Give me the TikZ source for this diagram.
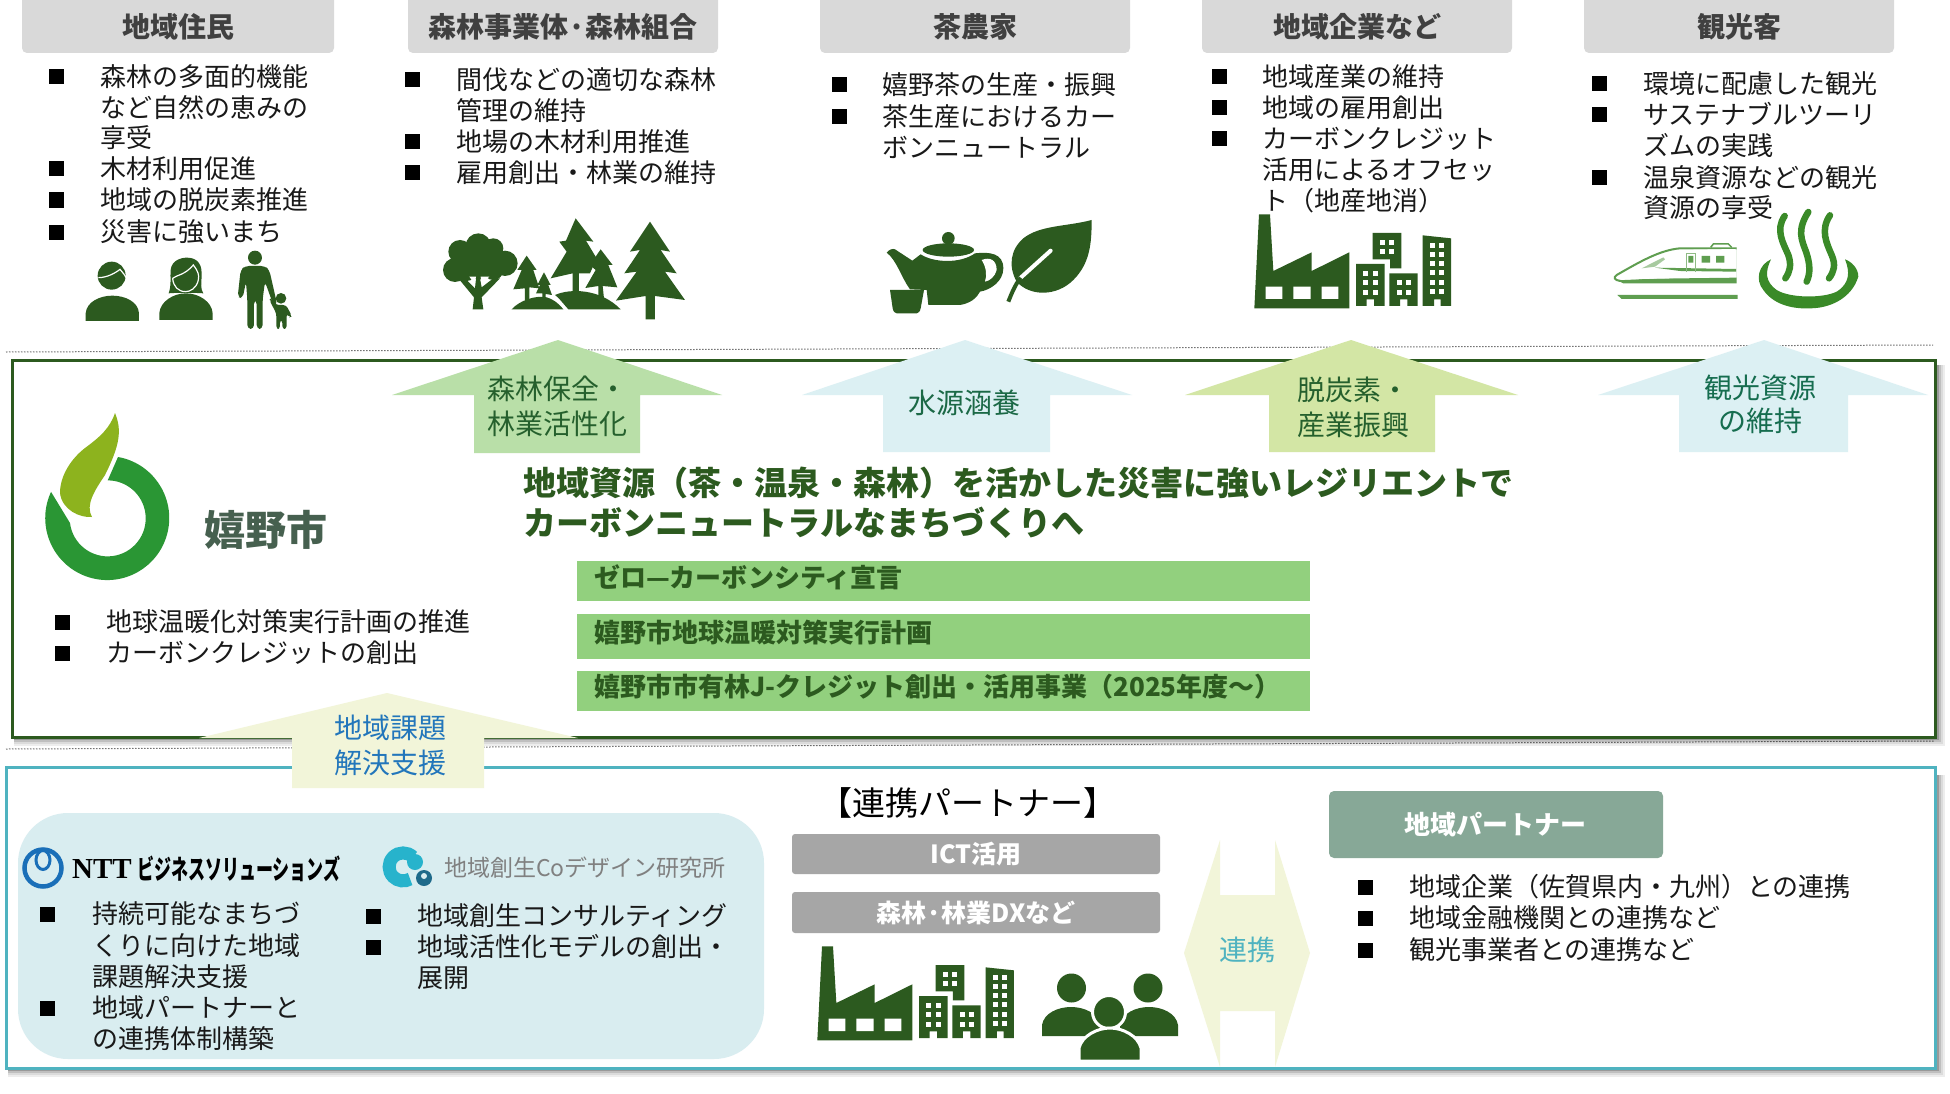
\documentclass[tikz,border=0pt]{standalone}
\usepackage{fontspec}
\usepackage{graphicx}
\setmainfont{Noto Sans CJK JP}
\newfontfamily\nttfont{Liberation Serif}
\definecolor{dk}{HTML}{2C5A1F}
\definecolor{hdr}{HTML}{D9D9D9}
\definecolor{barg}{HTML}{92D07E}
\definecolor{ag}{HTML}{B9DFA8}
\definecolor{ab}{HTML}{DCF0F3}
\definecolor{ay}{HTML}{D3E6A5}
\definecolor{ap}{HTML}{F2F5D9}
\definecolor{tealb}{HTML}{4FB3C0}
\definecolor{panel}{HTML}{D9EDF0}
\definecolor{ring}{HTML}{2A9634}
\definecolor{leafc}{HTML}{8DB31E}
\definecolor{trainc}{HTML}{5F9E50}
\definecolor{onsen}{HTML}{3A8A28}
\definecolor{rpbox}{HTML}{87A897}
\definecolor{bluet}{HTML}{2276BB}
\definecolor{citytxt}{HTML}{46604F}
\definecolor{nttblue}{HTML}{1A6FB8}
\definecolor{cocyan}{HTML}{27B3CC}
\definecolor{codark}{HTML}{1E6A8A}
\tikzset{
 fs/.style={font=\fontsize{#1}{#1}\selectfont,text height=0.88*#1pt,text depth=0.12*#1pt,inner sep=0pt},
 body/.style={fs=26,anchor=west,text=black!90},
 sqb/.style={fill=black,draw=none,minimum size=15pt,inner sep=0pt},
 hdrbox/.style={fill=hdr,rounded corners=5pt,draw=none},
 hdrtxt/.style={fs=28,font=\fontsize{28}{28}\selectfont\bfseries,text=black!75},
 icon/.style 2 args={shift={(#1,#2)},x=0.3333pt,y=-0.3333pt},
 darkf/.style={fill=dk,draw=none},
 dotline/.style={draw=black!55,line width=1pt,dash pattern=on 1.5pt off 1.5pt},
 bartxt/.style={fs=26,font=\fontsize{26}{26}\selectfont\bfseries,anchor=west,text=dk},
 graybar/.style={fill=black!35,rounded corners=3pt,draw=none},
 graytxt/.style={fs=25,font=\fontsize{25}{25}\selectfont\bfseries,text=white},
 arrtxt/.style={fs=28},
 titletxt/.style={fs=33,font=\fontsize{33}{33}\selectfont\bfseries,anchor=west,text=dk},
}
\newcommand{\bi}[5]{\node[sqb] (#1b) at (#2,#4) {};\node[body] (#1) at (#3,#4) {#5};}
\newcommand{\ct}[4]{\node[body] (#1) at (#2,#3) {#4};}
\newcommand{\factoryicon}[2]{%
 \begin{scope}[icon={#1}{#2}]
  \fill[dk] (27,28)--(60,28)--(70,198)--(185,142)--(185,198)--(298,142)--(298,310)--(13,310)--cycle;
  \fill[white] (47,245) rectangle (97,282) (130,245) rectangle (182,282) (215,245) rectangle (265,282);
  \fill[dk] (318,177)--(404,177)--(404,303)--(372,303)--(372,283)--(350,283)--(350,303)--(318,303)--cycle;
  \fill[dk] (368,84)--(454,84)--(454,190)--(420,190)--(420,163)--(368,163)--cycle;
  \fill[dk] (418,205)--(503,205)--(503,303)--(472,303)--(472,283)--(450,283)--(450,303)--(418,303)--cycle;
  \fill[dk] (518,91)--(603,100)--(603,303)--(572,303)--(572,283)--(552,283)--(552,303)--(518,303)--cycle;
  \foreach \a in {340,368} \foreach \b in {197,226,255} \fill[white] (\a,\b) rectangle ++(15,15);
  \foreach \a in {390,418} \foreach \b in {105,133} \fill[white] (\a,\b) rectangle ++(15,15);
  \foreach \a in {440,468} \foreach \b in {226,255} \fill[white] (\a,\b) rectangle ++(15,15);
  \foreach \a in {539,567} \foreach \b in {115,141,168,195,224,253} \fill[white] (\a,\b) rectangle ++(15,15);
 \end{scope}}
\begin{document}
\begin{tikzpicture}[x=1pt,y=-1pt]
\useasboundingbox (0,0) rectangle (1950,1094);
\fill[white] (0,0) rectangle (1950,1094);

% dotted separators
\coordinate (d1a) at (6,352); \coordinate (d1b) at (1933,345);
\coordinate (d2a) at (6,749); \coordinate (d2b) at (1934,741);
\draw[dotline] (d1a)--(d1b);
\draw[dotline] (d2a)--(d2b);

% shadows
\foreach \d/\o in {2/.40,4/.25,6/.14,8/.07}{
 \draw[black,opacity=\o,line width=2pt] (14,737+\d)--(1936+\d,737+\d)--(1936+\d,365);
 \draw[black,opacity=\o,line width=2pt] (8,1068+\d)--(1936+\d,1068+\d)--(1936+\d,775);
}
% main boxes
\draw[dk,line width=3pt,fill=white] (12,360) rectangle (1935,737);
\draw[tealb,line width=3pt,fill=white] (6,767) rectangle (1935,1068);

% header boxes
\foreach \xa/\xb/\n in {22/334/a,408/718/b,820/1130/c,1202/1512/d,1584/1894/e}
 \path[hdrbox] (\xa,-8) rectangle (\xb,53);
\node[hdrtxt] (ha) at (178,27) {地域住民};
\node[hdrtxt] (hb) at (563,27) {森林事業体·森林組合};
\node[hdrtxt] (hc) at (975,27) {茶農家};
\node[hdrtxt] (hd) at (1357,27) {地域企業など};
\node[hdrtxt] (he) at (1739,27) {観光客};

% column 1
\bi{a1}{56}{100}{77}{森林の多面的機能}
\ct{a1x}{100}{108}{など自然の恵みの}
\ct{a1y}{100}{138}{享受}
\bi{a2}{56}{100}{169}{木材利用促進}
\bi{a3}{56}{100}{200}{地域の脱炭素推進}
\bi{a4}{56}{100}{232}{災害に強いまち}
% column 2
\bi{b1}{412}{456}{80}{間伐などの適切な森林}
\ct{b1x}{456}{111}{管理の維持}
\bi{b2}{412}{456}{142}{地場の木材利用推進}
\bi{b3}{412}{456}{173}{雇用創出・林業の維持}
% column 3
\bi{c1}{839}{882}{85}{嬉野茶の生産・振興}
\bi{c2}{839}{882}{117}{茶生産におけるカー}
\ct{c2x}{882}{148}{ボンニュートラル}
% column 4
\bi{d1}{1219}{1262}{77}{地域産業の維持}
\bi{d2}{1219}{1262}{108}{地域の雇用創出}
\bi{d3}{1219}{1262}{139}{カーボンクレジット}
\ct{d3x}{1262}{170}{活用によるオフセッ}
\ct{d3y}{1262}{201}{ト（地産地消）}
% column 5
\bi{e1}{1599}{1643}{84}{環境に配慮した観光}
\bi{e2}{1599}{1643}{115}{サステナブルツーリ}
\ct{e2x}{1643}{146}{ズムの実践}
\bi{e3}{1599}{1643}{178}{温泉資源などの観光}
\ct{e3x}{1643}{208}{資源の享受}

% people icons
\begin{scope}[icon={70}{210}]
 \fill[dk] (125,197) circle [radius=42];
 \draw[white,line width=1.2pt] (85,203) .. controls (110,203) and (135,190) .. (150,178) .. controls (158,188) and (165,195) .. (170,205);
 \fill[dk] (47,333)--(47,310) .. controls (50,275) and (90,257) .. (127,257) .. controls (165,257) and (205,275) .. (207,310)--(207,333)--cycle;
 \fill[dk] (296,250) .. controls (305,225) and (300,200) .. (302,180) .. controls (305,150) and (335,143) .. (350,143) .. controls (375,143) and (395,155) .. (395,190) .. controls (395,220) and (390,235) .. (400,250) .. controls (380,248) and (310,248) .. cycle;
 \draw[white,line width=1.2pt] (308,205) .. controls (320,195) and (345,195) .. (370,165) .. controls (385,185) and (388,195) .. (385,210) .. controls (380,235) and (360,245) .. (347,245) .. controls (325,245) and (310,230) .. (308,205);
 \fill[dk] (268,330)--(268,310) .. controls (270,275) and (310,250) .. (348,250) .. controls (386,250) and (426,275) .. (428,310)--(428,330)--cycle;
 % father
 \fill[dk] (555,143) circle [radius=21];
 \fill[dk,rounded corners=4pt] (525,168)--(585,168)--(598,180)--(622,285)--(612,290)--(585,215)--(578,268)--(578,357)--(560,357)--(560,270)--(552,270)--(552,357)--(532,357)--(532,268)--(528,215)--(518,265)--(503,262)--(512,180)--cycle;
 % child
 \fill[dk] (633,265) circle [radius=16];
 \fill[dk,rounded corners=3pt] (618,285)--(648,285)--(666,318)--(658,323)--(650,310)--(650,357)--(637,357)--(637,330)--(630,330)--(630,357)--(619,357)--(619,310)--(598,270)--(604,264)--cycle;
\end{scope}

% tree icons
\begin{scope}[icon={430}{210}]
 \foreach \cx/\cy/\r in {90/125/35,145/108/38,190/115/30,225/160/38,75/180/36,150/150/58,110/185/28,190/180/30}
  \fill[dk] (\cx,\cy) circle [radius=\r];
 \fill[dk] (128,298)--(160,298)--(155,262)--(210,205)--(190,205)--(155,232)--(150,205)--(138,205)--(135,235)--(105,205)--(85,205)--(132,262)--cycle;
 \fill[white] (118,200)--(134,222)--(138,200)--cycle (152,200)--(155,222)--(178,200)--cycle;
 \fill[dk] (660,35)--(720,125)--(692,120)--(740,190)--(705,185)--(765,270)--(675,258)--(675,328)--(647,328)--(647,258)--(558,272)--(620,185)--(583,190)--(630,120)--(600,125)--cycle;
 \fill[dk] (437,25)--(490,95)--(468,92)--(500,145)--(480,190)--(447,190)--(447,245)--(428,245)--(428,190)--(362,205)--(410,125)--(388,95)--(408,92)--cycle;
 \fill[dk] (512,118)--(548,165)--(535,165)--(562,232)--(518,228)--(522,265)--(505,265)--(505,228)--(466,234)--(497,180)--(480,165)--cycle;
 \fill[dk] (290,137)--(320,180)--(310,180)--(328,235)--(298,232)--(298,270)--(285,270)--(285,235)--(250,238)--(275,180)--(262,180)--cycle;
 \fill[dk] (342,187)--(362,225)--(355,225)--(366,255)--(347,252)--(347,265)--(337,265)--(337,250)--(318,250)--(330,225)--(322,225)--cycle;
 \fill[dk] (245,298) .. controls (270,270) and (320,255) .. (350,262) .. controls (375,270) and (390,285) .. (400,298)--cycle;
 \fill[dk] (415,298) .. controls (395,275) and (385,262) .. (375,255) .. controls (420,235) and (510,235) .. (572,298)--cycle;
\end{scope}

% teapot and leaf
\begin{scope}[icon={880}{210}]
 \fill[dk] (30,240)--(132,240)--(122,295) .. controls (120,305) and (115,310) .. (110,310)--(50,310) .. controls (45,310) and (40,305) .. (38,295)--cycle;
 \fill[dk] (20,128) .. controls (28,118) and (38,115) .. (45,118)--(97,152)--(122,133) .. controls (160,158) and (240,162) .. (285,130) .. controls (330,125) and (370,130) .. (370,175) .. controls (370,215) and (330,240) .. (300,245) .. controls (290,265) and (270,280) .. (240,285)--(145,285)--(140,240)--(90,238) .. controls (65,205) and (50,150) .. (20,128)--cycle;
 \fill[white] (305,150) .. controls (330,140) and (350,150) .. (350,180) .. controls (345,200) and (330,212) .. (315,215) .. controls (322,195) and (318,170) .. (305,150)--cycle;
 \fill[dk] (205,120) ellipse [x radius=77,y radius=20];
 \fill[dk] (205,85) circle [radius=19];
 \fill[dk] (635,30) .. controls (560,50) and (480,45) .. (430,85) .. controls (390,120) and (385,170) .. (410,215) .. controls (450,260) and (530,260) .. (580,210) .. controls (630,160) and (635,100) .. (635,30)--cycle;
 \draw[white,line width=4pt,line cap=round] (512,122)--(420,205);
 \draw[dk,line width=4pt] (422,203) .. controls (405,225) and (395,250) .. (385,275);
\end{scope}

% factory (top)
\factoryicon{1250}{205}

% train
\begin{scope}[icon={1610}{200}]
 \draw[trainc,line width=2pt] (380,145)--(210,145) .. controls (150,150) and (90,185) .. (20,225) .. controls (10,232) and (12,240) .. (30,243);
 \fill[trainc] (380,142)--(380,250)--(40,250)--(20,240)--(140,236)--(380,233)--cycle;
 \fill[white] (377,147)--(377,205)--(135,203)--(170,190)--(210,150)--cycle;
 \fill[trainc!55] (160,172)--(95,205)--(135,200)--(165,178)--cycle;
 \fill[white] (30,240) .. controls (100,236) and (250,232) .. (377,230)--(377,222)--(120,225)--(50,228)--cycle;
 \fill[trainc] (135,203)--(378,207)--(378,215)--(210,213)--cycle;
 \draw[trainc!70,line width=.8pt] (228,216)--(228,160)--(255,160)--(255,216);
 \fill[trainc] (235,168) rectangle (250,188) (275,168) rectangle (300,188) (318,168) rectangle (343,188);
 \draw[trainc,line width=1.5pt] (302,142)--(310,132)--(355,132)--(365,142);
 \fill[trainc] (22,285)--(383,285)--(383,297)--(35,297)--cycle;
\end{scope}

% hot spring
\begin{scope}[icon={1610}{200}]
 \fill[onsen] (483,178) .. controls (445,195) and (435,240) .. (460,270) .. controls (495,320) and (560,327) .. (600,325) .. controls (660,325) and (725,295) .. (745,230) .. controls (745,205) and (725,185) .. (705,178) .. controls (720,215) and (720,250) .. (680,275) .. controls (640,295) and (540,295) .. (500,270) .. controls (465,245) and (465,215) .. (483,178)--cycle;
 \draw[onsen,line width=6.5pt,line cap=round] (524,48) .. controls (495,90) and (520,130) .. (535,165) .. controls (545,195) and (540,215) .. (526,235);
 \draw[onsen,line width=6.5pt,line cap=round] (595,36) .. controls (560,90) and (575,120) .. (588,155) .. controls (600,190) and (602,220) .. (590,245);
 \draw[onsen,line width=6.5pt,line cap=round] (660,46) .. controls (630,90) and (650,130) .. (665,165) .. controls (678,195) and (672,215) .. (657,235);
\end{scope}

% up arrows
\fill[ag] (558,340)--(722,395)--(640,395)--(640,453)--(474,453)--(474,395)--(392,395)--cycle;
\fill[ab] (965,340)--(1132,395)--(1050,395)--(1050,452)--(883,452)--(883,395)--(802,395)--cycle;
\fill[ay] (1351,340)--(1518,395)--(1435,395)--(1435,452)--(1269,452)--(1269,395)--(1185,395)--cycle;
\fill[ab] (1764,340)--(1928,395)--(1848,395)--(1848,452)--(1679,452)--(1679,395)--(1598,395)--cycle;
\fill[ap] (387,693)--(578,738)--(484,738)--(484,788)--(292,788)--(292,738)--(199,738)--cycle;

\node[arrtxt,anchor=west,text=dk!85!teal] (t1a) at (487,389) {森林保全・};
\node[arrtxt,anchor=west,text=dk!85!teal] (t1b) at (487,424) {林業活性化};
\node[arrtxt,text=dk!60!teal] (t2) at (964,403) {水源涵養};
\node[arrtxt,anchor=west,text=dk!85!teal] (t3a) at (1297,390) {脱炭素・};
\node[arrtxt,anchor=west,text=dk!85!teal] (t3b) at (1297,425) {産業振興};
\node[arrtxt,text=dk!50!teal] (t4a) at (1760,388) {観光資源};
\node[arrtxt,text=dk!50!teal] (t4b) at (1760,421) {の維持};
\node[arrtxt,text=bluet] (t5a) at (390,728) {地域課題};
\node[arrtxt,text=bluet] (t5b) at (390,763) {解決支援};

% Ureshino logo
\fill[ring] (118,457) arc [start angle=-80,end angle=205,radius=62]--(70,523) arc [start angle=173,end angle=-90,radius=38]--cycle;
\fill[leafc] (115,413) .. controls (122,430) and (120,445) .. (105,475) .. controls (95,490) and (85,505) .. (92,517) .. controls (80,518) and (62,510) .. (60,493) .. controls (60,475) and (72,458) .. (85,448) .. controls (100,437) and (110,428) .. (115,413)--cycle;
\node[fs=41,font=\fontsize{41}{41}\selectfont\bfseries,text=citytxt,anchor=west] (city) at (204,530) {嬉野市};
\bi{m1}{62}{106}{622}{地球温暖化対策実行計画の推進}
\bi{m2}{62}{106}{653}{カーボンクレジットの創出}

% title
\node[titletxt] (ttl1) at (523,483) {地域資源（茶・温泉・森林）を活かした災害に強いレジリエントで};
\node[titletxt] (ttl2) at (523,523) {カーボンニュートラルなまちづくりへ};

% green bars
\fill[barg] (577,561) rectangle (1310,601);
\fill[barg] (577,614) rectangle (1310,659);
\fill[barg] (577,671) rectangle (1310,711);
\node[bartxt] (g1) at (594,578) {ゼロ—カーボンシティ宣言};
\node[bartxt] (g2) at (594,633) {嬉野市地球温暖対策実行計画};
\node[bartxt] (g3) at (594,687) {嬉野市市有林J-クレジット創出・活用事業（2025年度〜）};

% partner panel
\fill[panel,rounded corners=50pt] (18,813) rectangle (764,1059);
\draw[nttblue,line width=4.5pt] (43,868) circle [radius=18.5];
\draw[nttblue,line width=3pt] (43,860) ellipse [x radius=7,y radius=9.5];
\node[font=\nttfont\fontsize{29}{29}\selectfont\bfseries,inner sep=0pt,anchor=west] (ntta) at (72,869) {NTT};
\node[font=\fontsize{27}{27}\selectfont\bfseries,inner sep=0pt,anchor=west] (nttb) at (137,869) {\scalebox{.63}[1]{ビジネスソリューションズ}};
\draw[cocyan,line width=13pt] (413,857) arc [start angle=-45,end angle=-300,radius=14];
\fill[cocyan] (415,862) circle [radius=8];
\fill[codark] (424,878) circle [radius=8];
\fill[panel] (424,876) circle [radius=3];
\node[fs=23,text=black!50,anchor=west] (coname) at (444,868) {地域創生Coデザイン研究所};
\bi{n1}{47}{92}{914}{持続可能なまちづ}
\ct{n1x}{92}{946}{くりに向けた地域}
\ct{n1y}{92}{977}{課題解決支援}
\bi{n2}{47}{92}{1008}{地域パートナーと}
\ct{n2x}{92}{1039}{の連携体制構築}
\bi{o1}{373}{417}{916}{地域創生コンサルティング}
\bi{o2}{373}{417}{947}{地域活性化モデルの創出・}
\ct{o2x}{417}{978}{展開}

% middle partners
\node[fs=33] (pt) at (968,803) {【連携パートナー】};
\path[graybar] (792,834) rectangle (1160,874);
\path[graybar] (792,892) rectangle (1160,933);
\node[graytxt] (gb1) at (976,854) {ICT活用};
\node[graytxt] (gb2) at (976,913) {森林·林業DXなど};
\factoryicon{813}{937}

% group of people
\fill[dk] (1071.5,988) circle [radius=14.5];
\fill[dk] (1148,988) circle [radius=14.5];
\fill[dk] (1042,1036)--(1042,1025) .. controls (1044,1013) and (1058,1007) .. (1071,1007) .. controls (1084,1007) and (1098,1013) .. (1100,1025)--(1100,1036)--cycle;
\fill[dk] (1178,1036)--(1178,1025) .. controls (1176,1013) and (1162,1007) .. (1149,1007) .. controls (1136,1007) and (1122,1013) .. (1120,1025)--(1120,1036)--cycle;
\fill[dk,draw=white,line width=3pt] (1109,1012) circle [radius=16.5];
\fill[dk,draw=white,line width=3pt] (1079,1061)--(1079,1048) .. controls (1082,1036) and (1097,1028) .. (1110,1028) .. controls (1123,1028) and (1138,1036) .. (1141,1048)--(1141,1061)--cycle;

% connection arrow
\fill[ap] (1220,840)--(1220,895)--(1275,895)--(1275,840)--(1310,953)--(1275,1067)--(1275,1011)--(1220,1011)--(1220,1067)--(1184,953)--cycle;
\node[arrtxt,text=tealb] (rl) at (1247,950) {連携};

% right partner
\fill[rpbox,rounded corners=5pt] (1329,791) rectangle (1663,858);
\node[graytxt,fs=26,font=\fontsize{26}{26}\selectfont\bfseries] (rp) at (1495,825) {地域パートナー};
\bi{r1}{1365}{1409}{887}{地域企業（佐賀県内・九州）との連携}
\bi{r2}{1365}{1409}{918}{地域金融機関との連携など}
\bi{r3}{1365}{1409}{950}{観光事業者との連携など}
\end{tikzpicture}
\end{document}
